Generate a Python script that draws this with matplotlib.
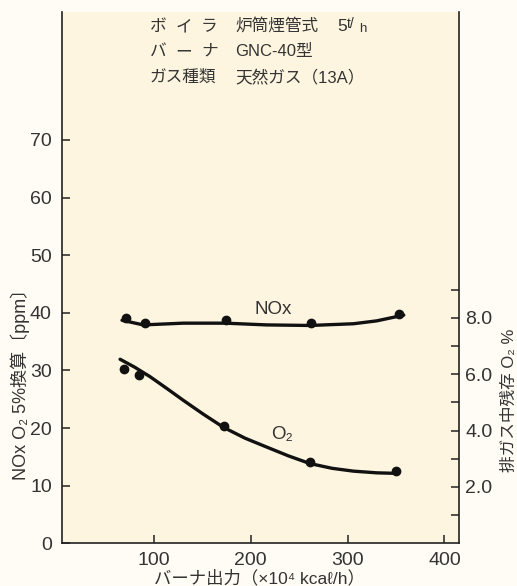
import matplotlib
matplotlib.use("Agg")
import matplotlib.pyplot as plt
from matplotlib import font_manager

JP = ['Liberation Sans', 'Noto Sans CJK JP', 'DejaVu Sans']
names = {f.name for f in font_manager.fontManager.ttflist}
NUM = ['Liberation Sans Narrow', 'DejaVu Sans'] if 'Liberation Sans Narrow' in names else ['Liberation Sans', 'DejaVu Sans']

# ---- data ----
nox_x = [71, 91, 174, 262, 353]
nox_y = [39.1, 38.3, 38.7, 38.3, 39.8]          # ppm (left axis)
nox_curve_x = [67, 89, 130, 174, 216, 261, 306, 330, 358]
nox_curve_y = [38.7, 37.9, 38.2, 38.2, 37.9, 37.8, 38.1, 38.6, 39.6]

o2_x = [69, 85, 172, 261, 350]
o2_y = [6.2, 5.97, 4.16, 2.87, 2.56]            # % (right axis)
o2_curve_x = [65, 80, 96, 113, 130, 151, 172, 194, 216, 239, 261, 284, 306, 330, 352]
o2_curve_y = [6.53, 6.25, 5.91, 5.50, 5.08, 4.58, 4.11, 3.73, 3.42, 3.10, 2.83, 2.66, 2.56, 2.50, 2.48]

x_ticks = [100, 200, 300, 400]
left_ticks = [0, 10, 20, 30, 40, 50, 60, 70]
right_major = [2.0, 4.0, 6.0, 8.0]
right_minor = [1, 3, 5, 7, 9]

W, H = 517, 586
fig = plt.figure(figsize=(W / 100, H / 100), dpi=100)
fig.patch.set_facecolor('#fefcf4')

def px(x, y):
    return x / W, 1 - y / H

ax = fig.add_axes([61.5 / W, 1 - 543.3 / H, (458.5 - 61.5) / W, (543.3 - 12) / H])
ax.set_facecolor('#fdf5df')
ax.set_xlim(4.5, 414.5)
ax.set_ylim(0, 92.2)
ax2 = ax.twinx()
ax2.set_ylim(0, 18.85)

for a in (ax, ax2):
    a.spines['top'].set_visible(False)
    for s in a.spines.values():
        s.set_linewidth(1.2)
        s.set_color('#222222')

ax.spines['right'].set_visible(False)
ax2.spines['left'].set_visible(False)
ax2.spines['bottom'].set_visible(False)

ax.set_xticks(x_ticks)
ax.set_yticks(left_ticks)
ax.tick_params(axis='both', direction='in', length=6, width=1.1, colors='#222222',
               labelsize=14, pad=7)
ax.tick_params(axis='x', pad=6)
for lab in ax.get_xticklabels() + ax.get_yticklabels():
    lab.set_family(NUM)
    lab.set_color('#333333')

ax2.set_yticks(right_major)
ax2.set_yticklabels([f'{v:.1f}' for v in right_major])
ax2.set_yticks(right_minor, minor=True)
ax2.tick_params(axis='y', which='both', direction='in', length=6, width=1.1,
                colors='#222222', labelsize=14, pad=5)
for lab in ax2.get_yticklabels():
    lab.set_family(NUM)
    lab.set_color('#333333')

# curves and points
ax.plot(nox_curve_x, nox_curve_y, color='#111111', lw=2.4, solid_capstyle='round')
ax.plot(nox_x, nox_y, 'o', color='#111111', ms=6)
ax2.plot(o2_curve_x, o2_curve_y, color='#111111', lw=2.4, solid_capstyle='round')
ax2.plot(o2_x, o2_y, 'o', color='#111111', ms=6)

ax.text(223, 40.6, 'NOx', fontsize=13.5, family=JP, color='#333333', ha='center', va='center')
ax.text(232, 18.8, 'O₂', fontsize=13.5, family=JP, color='#333333', ha='center', va='center')

# header text
tc = '#333333'
spaced = [(26.5, 'ボイラ'), (51.5, 'バーナ')]
for y, word in spaced:
    for i, ch in enumerate(word):
        fig.text(*px(150 + 25.5 * i, y), ch, fontsize=12, family=JP, color=tc,
                 va='center', ha='left')
fig.text(*px(150, 77), 'ガス種類', fontsize=12, family=JP, color=tc, va='center', ha='left')
for y, b in [(26.5, '炉筒煙管式'), (51.5, 'GNC-40型'), (77, '天然ガス（13A）')]:
    fig.text(*px(235, y), b, fontsize=12, family=JP, color=tc, va='center', ha='left')
fig.text(*px(337, 26.5), '5', fontsize=12.5, family=JP, color=tc, va='center', ha='left')
fig.text(*px(347, 24.5), 't/', fontsize=10, family=JP, color=tc, va='center', ha='left')
fig.text(*px(359, 29.5), 'h', fontsize=9.5, family=JP, color=tc, va='center', ha='left')

# axis labels
fig.text(*px(20, 380), 'NOx O₂ 5%換算〔ppm〕', fontsize=13, family=JP, color=tc,
         rotation=90, ha='center', va='center')
fig.text(*px(509, 400), '排ガス中残存 O₂ %', fontsize=12, family=JP, color=tc,
         rotation=90, ha='center', va='center')
fig.text(*px(259, 578), 'バーナ出力（×10⁴ kcaℓ/h）', fontsize=12.5, family=JP, color=tc,
         ha='center', va='center')

fig.savefig('out.png', dpi=100, facecolor=fig.get_facecolor())
